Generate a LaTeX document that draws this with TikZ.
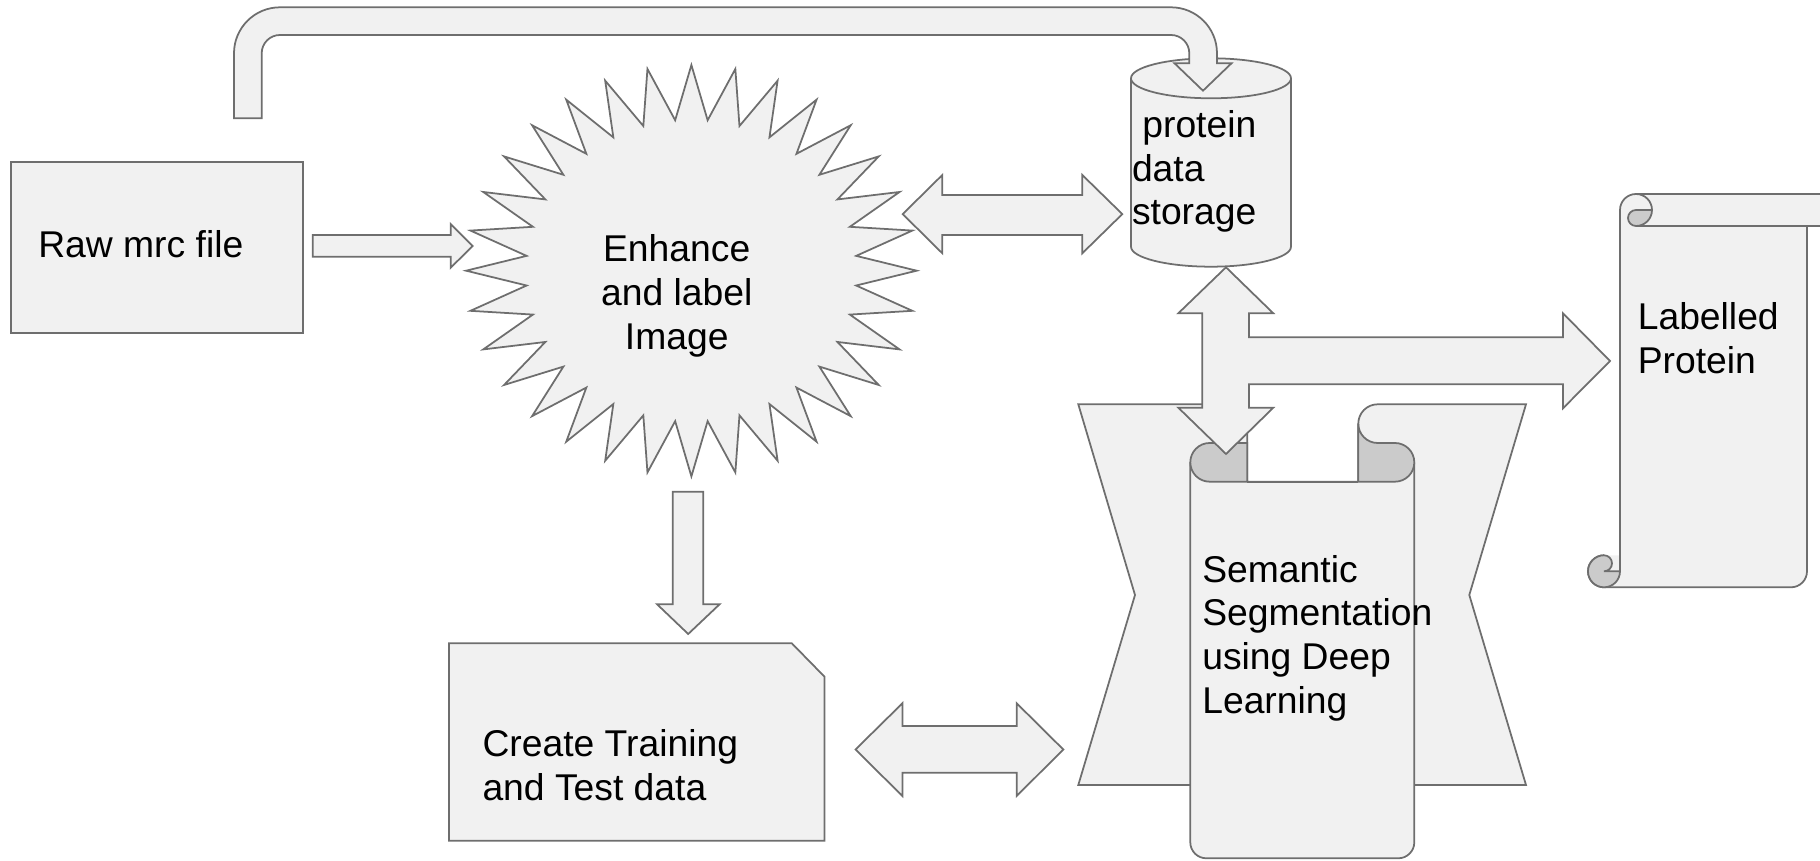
\documentclass[tikz,border=0pt]{standalone}
\usepackage{fontspec}
\setmainfont{Liberation Sans}
\definecolor{shapefill}{HTML}{F1F1F1}
\definecolor{shapeline}{HTML}{6E6E6E}
\definecolor{curlfill}{HTML}{CBCBCB}
\tikzset{
  blk/.style={fill=shapefill, draw=shapeline, line width=0.5pt},
  blkfill/.style={fill=shapefill},
  curl/.style={fill=curlfill, draw=shapeline, line width=0.5pt},
  outline/.style={draw=shapeline, line width=0.5pt},
  txt/.style={inner sep=0pt, outer sep=0pt, font=\fontsize{10.6pt}{12.4pt}\selectfont}
}
\begin{document}
\begin{tikzpicture}[x=0.01cm, y=-0.01cm]
\path[use as bounding box] (0,0) rectangle (1820,861);
\clip (0,0) rectangle (1820,861);

% raw input box
\draw[blk] (10.7,161.7) rectangle (302.7,333.3);

% arrow raw -> enhance
\draw[blk] (312.7,235) -- (450.7,235) -- (450.7,224) -- (472.7,246)
  -- (450.7,267.7) -- (450.7,256.7) -- (312.7,256.7) -- cycle;

% 32-point starburst
\draw[blk] plot[samples at={0,...,63}, variable=\k]
  ({691.4+(195.45+29.85*cos(\k*180))*cos(\k*5.625)},
   {270.7+(178.45+27.25*cos(\k*180))*sin(\k*5.625)}) -- cycle;

% storage cylinder
\path[blk] (1131,78.3) -- (1131,246.7)
  arc[start angle=180, end angle=0, x radius=80, y radius=20]
  -- (1291,78.3)
  arc[start angle=0, end angle=-180, x radius=80, y radius=20] -- cycle;
\draw[outline] (1131,78.3) arc[start angle=180, end angle=0, x radius=80, y radius=20];

% bent arrow over the top into the cylinder
\draw[blk] (234,118.3) -- (234,53.3)
  arc[start angle=180, end angle=270, radius=46] -- (1171,7.3)
  arc[start angle=270, end angle=360, radius=46] -- (1217,63.3)
  -- (1231.5,63.3) -- (1203,90.7) -- (1174.5,63.3) -- (1189.3,63.3) -- (1189.3,53.3)
  arc[start angle=0, end angle=-90, radius=18.3] -- (280,35)
  arc[start angle=270, end angle=180, radius=18.3] -- (261.7,118.3) -- cycle;

% double arrow enhance <-> storage
\draw[blk] (902.7,214.1) -- (942.3,175) -- (942.3,195) -- (1082.3,195) -- (1082.3,175)
  -- (1122.3,214.1) -- (1082.3,253.3) -- (1082.3,235) -- (942.3,235) -- (942.3,253.3) -- cycle;

% arrow enhance -> training data
\draw[blk] (672.7,491.7) -- (703.3,491.7) -- (703.3,604.3) -- (719.6,604.3)
  -- (688.2,634) -- (657.1,604.3) -- (672.7,604.3) -- cycle;

% training data card
\draw[blk] (449,643.3) -- (791.8,643.3) -- (824.5,676.7) -- (824.5,840.7) -- (449,840.7) -- cycle;

% double arrow training data <-> segmentation
\draw[blk] (855.5,749.5) -- (902.4,703.3) -- (902.4,726) -- (1016.7,726) -- (1016.7,703.3)
  -- (1063.3,749.5) -- (1016.7,796) -- (1016.7,772.7) -- (902.4,772.7) -- (902.4,796) -- cycle;

% hourglass behind the segmentation scroll
\draw[blk] (1078.3,404.3) -- (1247.3,404.3) -- (1247.3,481.7) -- (1358.3,481.7) -- (1358.3,423.65)
  arc[start angle=180, end angle=270, radius=19.35]
  -- (1526,404.3) -- (1469.3,595) -- (1526,785) -- (1078.3,785) -- (1135,595) -- cycle;

% segmentation scroll: body
\path[blkfill] (1190.3,462.35) -- (1190.3,842.3)
  arc[start angle=180, end angle=90, radius=16] -- (1398.3,858.3)
  arc[start angle=90, end angle=0, radius=16] -- (1414.3,462.35)
  -- (1394.95,462.35) -- (1394.95,481.7) -- (1209.65,481.7) -- (1209.65,462.35) -- cycle;
\draw[outline] (1190.3,462.35) -- (1190.3,842.3)
  arc[start angle=180, end angle=90, radius=16] -- (1398.3,858.3)
  arc[start angle=90, end angle=0, radius=16] -- (1414.3,462.35);
\draw[outline] (1247.3,481.7) -- (1358.3,481.7);
% segmentation scroll: rolled ends
\draw[curl] (1247.3,443) -- (1209.65,443)
  arc[start angle=270, end angle=90, radius=19.35] -- (1247.3,481.7) -- cycle;
\draw[curl] (1358.3,423.65) arc[start angle=180, end angle=90, radius=19.35]
  -- (1394.95,443) arc[start angle=270, end angle=450, radius=19.35]
  -- (1358.3,481.7) -- cycle;

% three-way arrow: storage <-> segmentation, branch to labelled protein
\draw[blk] (1226,267.3) -- (1273.3,313.3) -- (1249,313.3) -- (1249,337.3) -- (1563,337.3)
  -- (1563,313.3) -- (1610,361) -- (1563,408.3) -- (1563,384.3) -- (1249,384.3)
  -- (1249,407.7) -- (1273.3,407.7) -- (1226,454) -- (1178.3,407.7) -- (1202.3,407.7)
  -- (1202.3,313.3) -- (1178.3,313.3) -- cycle;

% labelled protein scroll
\path[blkfill] (1620,555.3) -- (1620,210)
  arc[start angle=180, end angle=270, radius=16] -- (1823,194)
  arc[start angle=-90, end angle=90, radius=16] -- (1807,226) -- (1807,571.3)
  arc[start angle=0, end angle=90, radius=16] -- (1604,587.3)
  arc[start angle=90, end angle=270, radius=16] -- cycle;
\draw[outline] (1620,571.3) -- (1620,210)
  arc[start angle=180, end angle=270, radius=16] -- (1823,194)
  arc[start angle=-90, end angle=90, radius=16] -- (1807,226) -- (1807,571.3)
  arc[start angle=0, end angle=90, radius=16] -- (1604,587.3)
  arc[start angle=90, end angle=270, radius=16];
\draw[outline] (1636,226) -- (1807,226);
\draw[outline] (1636,194) arc[start angle=-90, end angle=0, radius=16];
\draw[curl] (1652,210) arc[start angle=0, end angle=90, radius=16]
  arc[start angle=90, end angle=270, radius=8] -- cycle;
\draw[curl] (1620,571.3) arc[start angle=0, end angle=270, radius=16]
  arc[start angle=270, end angle=450, radius=8] -- cycle;

% texts
\node[txt, anchor=base west] (rawtext) at (38.3,257.7) {Raw mrc file};
\node[txt, anchor=base] (enhancetext) at (676.7,262) {\begin{tabular}[t]{@{}c@{}}Enhance\\and label\\Image\end{tabular}};
\node[txt, anchor=base west] (storagetext) at (1132,137.5) {\begin{tabular}[t]{@{}l@{}}\hspace*{0.278em}protein\\data\\storage\end{tabular}};
\node[txt, anchor=base west] (labelledtext) at (1637.8,329.6) {\begin{tabular}[t]{@{}l@{}}Labelled\\Protein\end{tabular}};
\node[txt, anchor=base west] (segtext) at (1202.3,582.2) {\begin{tabular}[t]{@{}l@{}}Semantic\\Segmentation\\using Deep\\Learning\end{tabular}};
\node[txt, anchor=base west] (traintext) at (482.5,756.8) {\begin{tabular}[t]{@{}l@{}}Create Training\\and Test data\end{tabular}};
\end{tikzpicture}
\end{document}
